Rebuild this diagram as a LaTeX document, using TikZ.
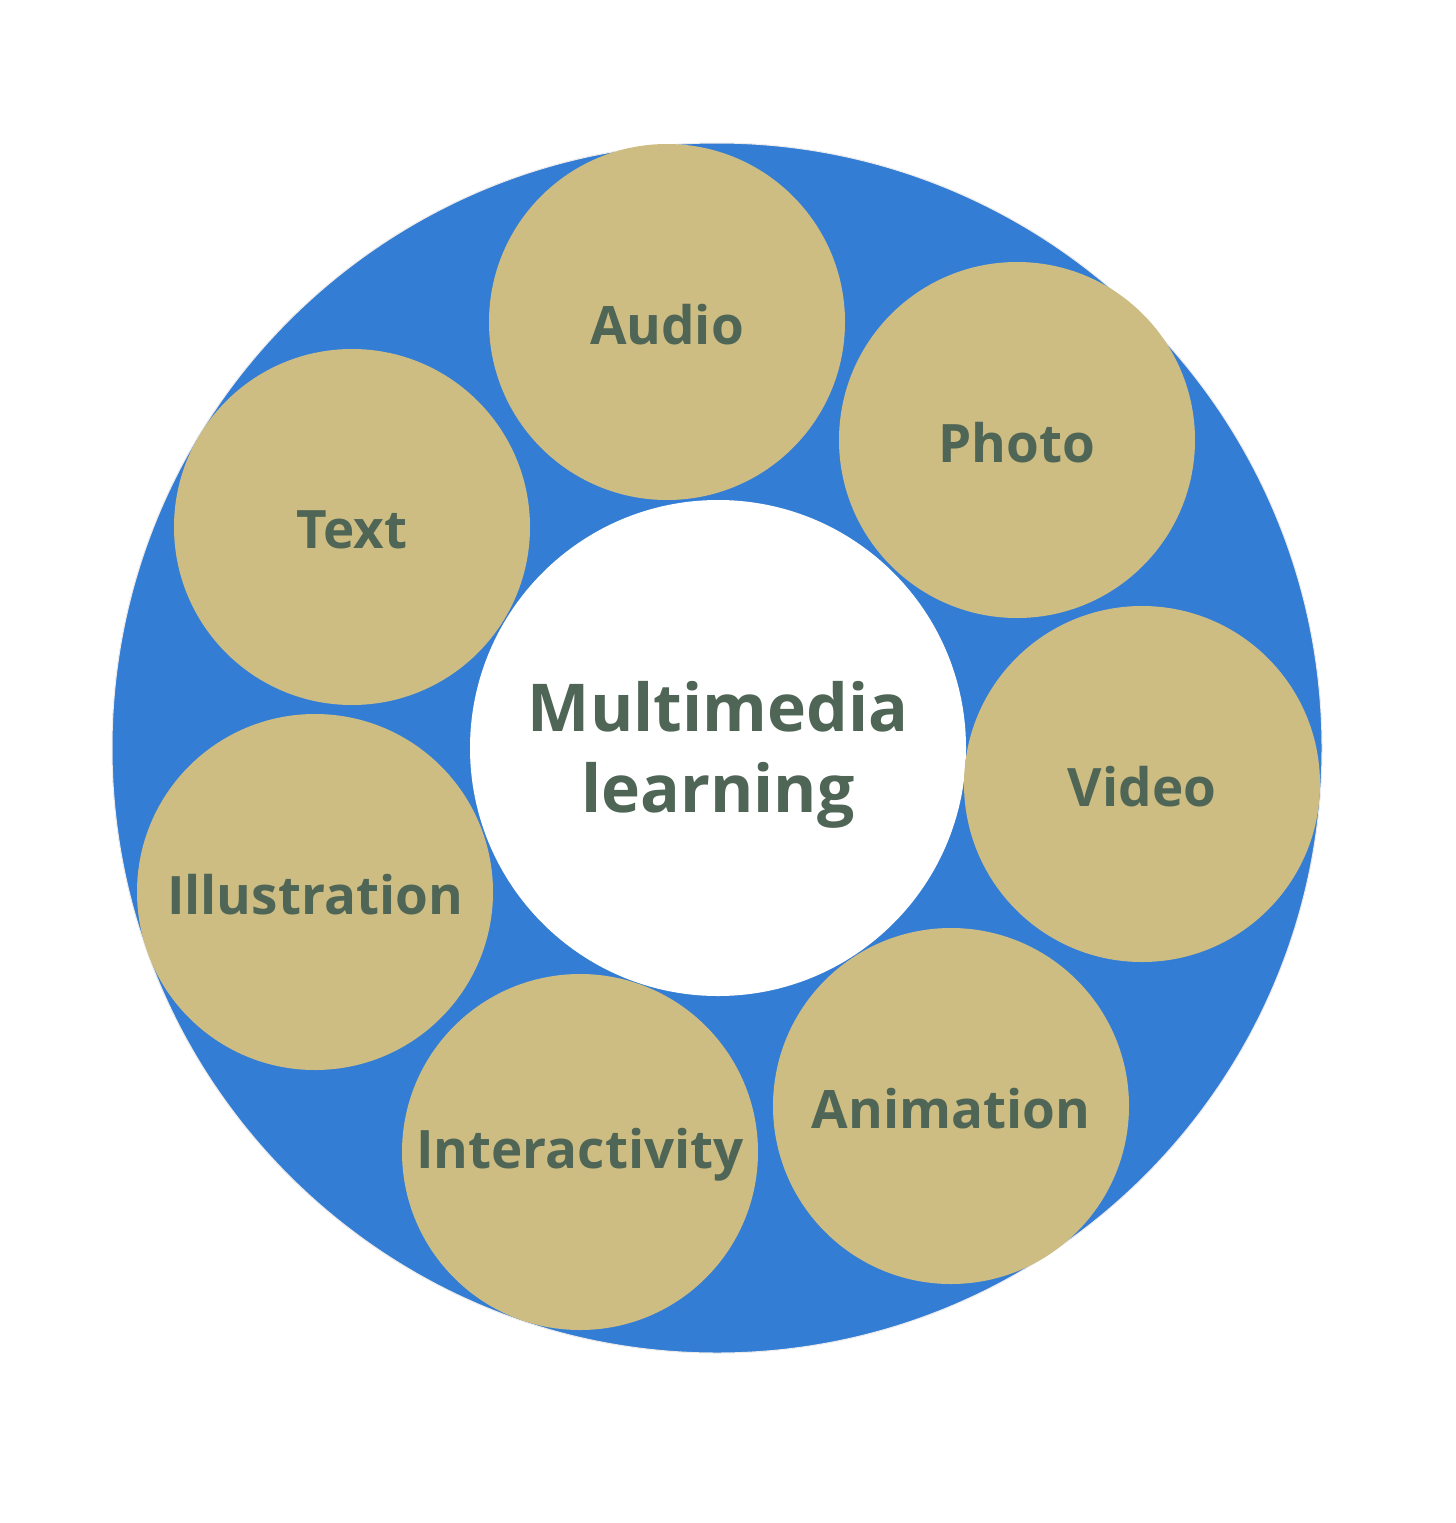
\documentclass[tikz,border=0pt]{standalone}
\usepackage{fontspec}
\setmainfont{Open Sans}
\definecolor{ringblue}{HTML}{347DD4}
\definecolor{tan}{HTML}{CDBD83}
\definecolor{txt}{HTML}{4F6556}
\begin{document}
\begin{tikzpicture}[x=1pt,y=-1pt,
  item/.style={circle,fill=tan,minimum size=356pt,inner sep=0pt},
  itemtext/.style={text=txt,font=\bfseries\fontsize{53}{60}\selectfont,inner sep=0pt}]
\useasboundingbox (0,0) rectangle (1456,1523);
\fill[white] (0,0) rectangle (1456,1523);
\node[circle,fill=ringblue,draw=black!8,line width=1pt,minimum size=1210pt,inner sep=0pt] (ring) at (717,748) {};
\node[circle,fill=white,minimum size=496pt,inner sep=0pt] (center) at (718,748) {};
\node[text=txt,align=center,inner sep=0pt,font=\bfseries\fontsize{66}{81}\selectfont] (centertext) at (718,755) {Multimedia\\learning};
\foreach \n/\x/\y/\t in {audio/667/322/Audio, photo/1017/440/Photo, video/1142/784/Video, anim/951/1106/Animation, inter/580/1152/Interactivity, illu/315/892/Illustration, text/352/527/Text}{
  \node[item] (\n) at (\x,\y) {};
  \node[itemtext] (\n-label) at ([yshift=-3pt]\n.center) {\t};
}
\end{tikzpicture}
\end{document}
